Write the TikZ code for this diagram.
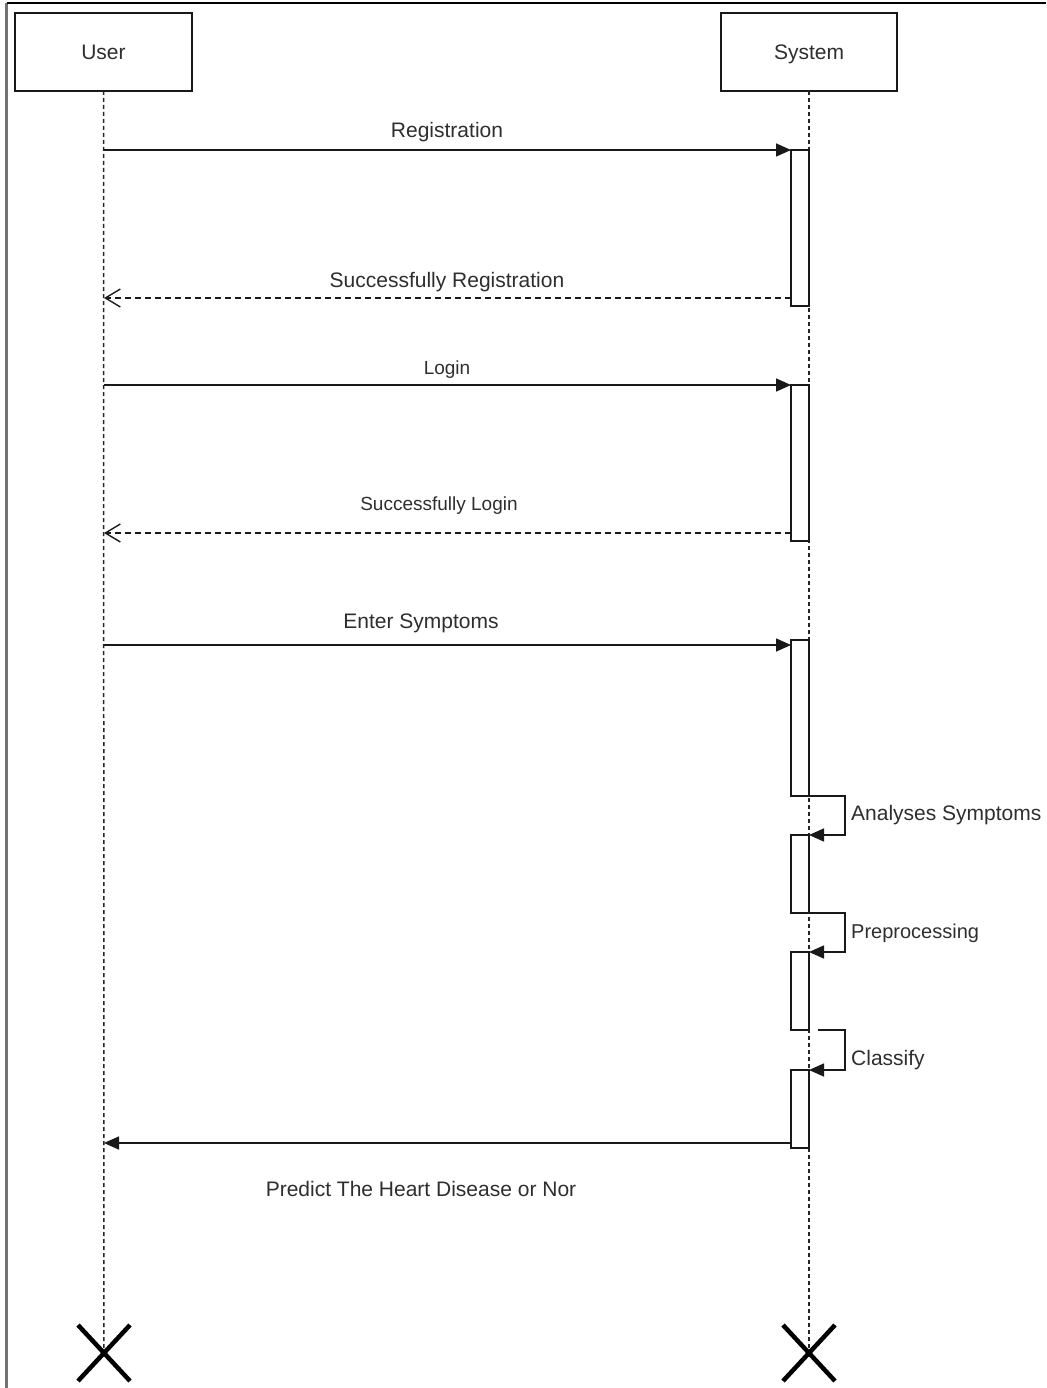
\documentclass[tikz,border=0pt]{standalone}
\usepackage{fontspec}
\setmainfont{Liberation Sans}
\usetikzlibrary{arrows.meta}
\begin{document}
\begin{tikzpicture}[x=1pt,y=-1pt,
  txt/.style={text=black!82, inner sep=0pt, font=\fontsize{21}{24}\selectfont},
  small/.style={txt, font=\fontsize{19}{22}\selectfont},
  actor/.style={draw=black!90, line width=1.6pt, fill=white, inner sep=0pt, outer sep=0pt,
    minimum width=177pt, minimum height=78pt, txt, text height=15pt, text depth=0pt},
  actbox/.style={draw=black!90, line width=1.6pt, fill=white, inner sep=0pt, outer sep=0pt,
    minimum width=18pt},
  lifeline/.style={draw=black!85, line width=1.5pt, dash pattern=on 4pt off 3pt},
  msg/.style={draw=black!90, line width=1.6pt, -{Triangle[length=15pt,width=13pt]}},
  reply/.style={draw=black!90, line width=1.4pt, dash pattern=on 6pt off 4pt,
    -{Straight Barb[length=15pt,width=18pt,line width=1.4pt]}},
  endmark/.style={line width=4.5pt, draw=black}]
\useasboundingbox (0,0) rectangle (1046,1388);

% outer frame (left and top edges)
\draw[line width=2.5pt, draw=black!55] (6.5,3) -- (6.5,1388);
\draw[line width=2.5pt, draw=black] (6.5,3) -- (1046,3);

% participants
\node[actor] (user) at (103.5,52) {User};
\node[actor, minimum width=176pt] (sys) at (809,52) {System};

% lifeline ends
\coordinate (uend) at (104,1353);
\coordinate (send) at (809,1353);
\draw[lifeline] (user.south) -- (uend);
\draw[lifeline] (sys.south) -- (send);

% activation bars on the system lifeline
\node[actbox, minimum height=156pt] (a1) at (800,228) {};
\node[actbox, minimum height=156pt] (a2) at (800,463) {};
\node[actbox, minimum height=156pt] (a3) at (800,718) {};
\node[actbox, minimum height=78pt]  (a4) at (800,874) {};
\node[actbox, minimum height=78pt]  (a5) at (800,991) {};
\node[actbox, minimum height=78pt]  (a6) at (800,1109) {};

% points on the user lifeline
\coordinate (u1) at (104,150);
\coordinate (r1) at (104,298);
\coordinate (u2) at (104,385);
\coordinate (r2) at (104,533);
\coordinate (u3) at (104,645);
\coordinate (r3) at (104,1143);

% messages
\draw[msg] (u1) -- (a1.north west);
\node[txt, anchor=base] (l1) at (447,138) {Registration};

\draw[reply] (a1.west |- r1) -- (r1);
\node[txt, anchor=base] (l2) at (447,287) {Successfully Registration};

\draw[msg] (u2) -- (a2.north west);
\node[small, anchor=base] (l3) at (447,374) {Login};

\draw[reply] (a2.west |- r2) -- (r2);
\node[small, anchor=base] (l4) at (439,510) {Successfully Login};

\draw[msg] (u3) -- (a3.west |- u3);
\node[txt, anchor=base] (l5) at (421,628) {Enter Symptoms};

% self calls
\draw[msg] (a3.south east) -- ++(36,0) |- (a4.north east);
\node[txt, anchor=base west] (l6) at (851,820) {Analyses Symptoms};

\draw[msg] (a4.south east) -- ++(36,0) |- (a5.north east);
\node[txt, anchor=base west, font=\fontsize{20}{23}\selectfont] (l7) at (851,938) {Preprocessing};

\draw[msg] ([xshift=9pt]a5.south east) -- ++(27,0) |- (a6.north east);
\node[txt, anchor=base west] (l8) at (851,1065) {Classify};

% result back to the user
\draw[msg] (a6.west |- r3) -- (r3);
\node[txt, anchor=base] (l9) at (421,1196) {Predict The Heart Disease or Nor};

% destruction marks
\draw[endmark] ([shift={(-26,-28)}]uend) -- ([shift={(26,28)}]uend)
               ([shift={(26,-28)}]uend) -- ([shift={(-26,28)}]uend);
\draw[endmark] ([shift={(-26,-28)}]send) -- ([shift={(26,28)}]send)
               ([shift={(26,-28)}]send) -- ([shift={(-26,28)}]send);
\end{tikzpicture}
\end{document}
